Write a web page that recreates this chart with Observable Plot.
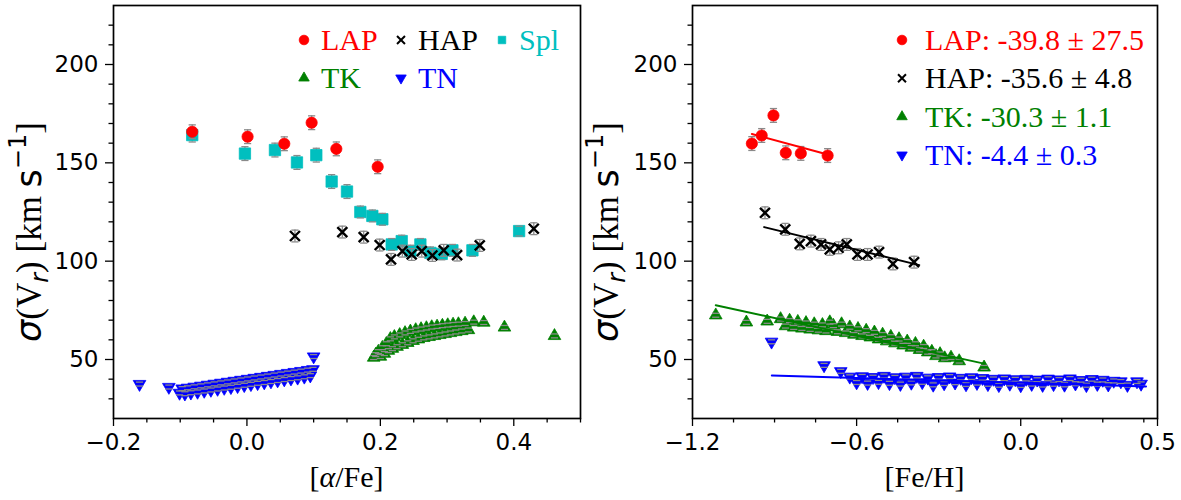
<!DOCTYPE html>
<html><head><meta charset="utf-8">
<script src="https://cdn.jsdelivr.net/npm/d3@7"></script>
<script src="https://cdn.jsdelivr.net/npm/@observablehq/plot@0.6"></script>
<style>
body{margin:0;background:#fff;}
#wrap{display:flex;width:1181px;height:500px;}
#wrap svg{overflow:visible;}
</style></head><body><div id="wrap"></div>
<script>
// ---------- data: [x, sigma(Vr), error] ----------
// left panel, x = [alpha/Fe]
const lapAlpha = [[-0.082,165.8,3.5],[0.001,163.3,3.5],[0.056,159.7,3.5],[0.097,170.4,3.5],[0.134,157.1,3.5],[0.196,148.0,3.5]];
const splAlpha = [[-0.082,164.1,3.5],[-0.003,154.7,3.5],[0.042,156.5,3.5],[0.075,150.2,3.5],[0.104,153.9,3.5],[0.127,140.5,3.5],[0.150,135.4,3.5],[0.170,125.0,3],[0.188,123.0,3],[0.203,121.3,3],[0.217,108.5,3],[0.232,110.2,3],[0.245,105.1,3],[0.260,108.5,3],[0.275,104.2,3],[0.292,103.7,3],[0.308,105.5,3],[0.338,105.5,3],[0.408,115.3,2.5]];
const hapAlpha = [[0.072,112.8,3],[0.143,114.8,3],[0.175,112.2,3],[0.199,108.2,3],[0.216,100.9,3],[0.233,105.1,3],[0.247,103.4,3],[0.262,105.1,3],[0.278,102.9,3],[0.295,105.5,3],[0.315,103.1,3],[0.349,108.0,3],[0.430,116.5,3]];
const tkAlpha = [[0.190,51.0,1],[0.193,52.5,1],[0.197,54.0,1],[0.200,51.5,1],[0.203,56.0,1],[0.206,53.0,1],[0.209,58.0,1],[0.212,54.5,1],[0.215,60.5,1],[0.218,55.5,1],[0.221,61.5,1],[0.225,56.5,1],[0.229,62.5,1],[0.233,57.5,1],[0.237,63.5,1],[0.241,58.5,1],[0.245,64.3,1],[0.249,59.5,1],[0.253,65.0,1],[0.257,60.3,1],[0.261,65.5,1],[0.265,61.0,1],[0.269,66.0,1],[0.273,61.5,1],[0.277,66.5,1],[0.281,62.0,1],[0.285,66.8,1],[0.289,62.5,1],[0.293,67.2,1],[0.297,63.0,1],[0.301,67.5,1],[0.305,63.5,1],[0.309,67.8,1],[0.313,64.0,1],[0.317,68.0,1],[0.322,64.5,1],[0.327,68.3,1],[0.332,65.0,1],[0.340,69.0,1],[0.355,68.8,1],[0.386,66.3,1],[0.461,62.0,1]];
const tnAlpha = [[-0.161,37.5,1],[-0.117,36.0,1],[-0.101,33.0,1],[-0.097,35.2,1],[-0.093,32.6,1],[-0.089,35.6,1],[-0.084,33.1,1],[-0.079,36.1,1],[-0.074,33.5,1],[-0.069,36.6,1],[-0.064,34.0,1],[-0.059,37.1,1],[-0.054,34.5,1],[-0.049,37.6,1],[-0.044,35.0,1],[-0.039,38.1,1],[-0.034,35.5,1],[-0.029,38.6,1],[-0.024,35.9,1],[-0.019,39.1,1],[-0.014,36.4,1],[-0.009,39.6,1],[-0.004,36.9,1],[0.001,40.1,1],[0.006,37.4,1],[0.011,40.6,1],[0.016,37.9,1],[0.021,41.1,1],[0.026,38.3,1],[0.031,41.6,1],[0.036,38.8,1],[0.041,42.1,1],[0.046,39.3,1],[0.051,42.6,1],[0.056,39.8,1],[0.061,43.1,1],[0.066,40.3,1],[0.071,43.6,1],[0.076,40.7,1],[0.081,44.1,1],[0.086,41.2,1],[0.091,44.6,1],[0.095,41.8,1],[0.099,45.0,1],[0.100,51.5,1]];

// right panel, x = [Fe/H]
const lapFe = [[-0.983,159.8,3.5],[-0.947,163.9,3.5],[-0.904,174.1,3.5],[-0.859,155.1,3.5],[-0.804,154.8,3.5],[-0.706,153.7,3.5]];
const hapFe = [[-0.935,124.6,3],[-0.861,116.2,3],[-0.808,108.8,3],[-0.767,110.2,3],[-0.730,108.5,3],[-0.698,106.0,3],[-0.666,106.8,3],[-0.636,108.5,3],[-0.597,103.4,3],[-0.560,103.4,3],[-0.518,104.6,3],[-0.467,98.6,3],[-0.390,99.5,3]];
const tkFe = [[-1.115,72.5,1],[-1.003,68.9,1],[-0.927,69.4,1],[-0.878,70.6,1],[-0.860,67.0,1],[-0.845,69.8,1],[-0.830,66.3,1],[-0.815,69.2,1],[-0.800,65.8,1],[-0.785,68.6,1],[-0.770,65.3,1],[-0.755,68.0,1],[-0.740,64.9,1],[-0.725,67.6,1],[-0.712,64.5,1],[-0.698,69.0,1],[-0.685,67.2,1],[-0.670,64.1,1],[-0.655,68.0,1],[-0.640,63.5,1],[-0.625,66.4,1],[-0.610,62.7,1],[-0.595,65.6,1],[-0.580,62.0,1],[-0.565,64.7,1],[-0.550,61.3,1],[-0.535,63.8,1],[-0.520,60.3,1],[-0.505,62.7,1],[-0.490,59.3,1],[-0.475,61.6,1],[-0.460,58.3,1],[-0.445,60.4,1],[-0.430,57.2,1],[-0.415,59.2,1],[-0.400,56.1,1],[-0.385,58.0,1],[-0.370,54.9,1],[-0.355,56.6,1],[-0.340,53.7,1],[-0.325,54.0,1],[-0.310,51.8,1],[-0.295,52.8,1],[-0.278,50.7,1],[-0.255,51.0,1],[-0.225,49.2,1],[-0.134,46.0,1]];
const tnFe = [[-0.911,59.0,1],[-0.719,47.0,1],[-0.658,44.0,1],[-0.625,41.2,1],[-0.600,38.3,1],[-0.580,41.4,1],[-0.560,38.0,1],[-0.540,41.0,1],[-0.520,38.4,1],[-0.500,41.6,1],[-0.480,37.9,1],[-0.460,40.9,1],[-0.440,37.5,1],[-0.420,41.2,1],[-0.400,38.1,1],[-0.380,41.6,1],[-0.360,38.4,1],[-0.340,40.7,1],[-0.320,37.1,1],[-0.300,41.0,1],[-0.280,37.8,1],[-0.260,41.3,1],[-0.240,38.2,1],[-0.220,40.6,1],[-0.200,37.3,1],[-0.180,40.9,1],[-0.160,38.0,1],[-0.140,40.5,1],[-0.120,37.4,1],[-0.100,40.1,1],[-0.080,36.9,1],[-0.060,40.3,1],[-0.040,37.6,1],[-0.020,39.9,1],[0.000,36.8,1],[0.020,40.1,1],[0.040,37.5,1],[0.060,39.7,1],[0.080,37.0,1],[0.100,40.2,1],[0.120,37.4,1],[0.140,39.8,1],[0.160,37.1,1],[0.180,40.3,1],[0.200,37.7,1],[0.220,39.5,1],[0.240,36.9,1],[0.260,40.0,1],[0.280,37.5,1],[0.300,39.6,1],[0.320,37.2,1],[0.340,39.1,1],[0.366,38.8,1],[0.390,37.0,1],[0.425,38.8,1],[0.440,37.6,1]];

// linear fits (endpoints) in right panel
const fitLapX = [-0.983, -0.706], fitLapY = [164.7, 154.2];
const fitHapX = [-0.938, -0.371], fitHapY = [117.3, 98.0];
const fitTkX  = [-1.115, -0.134], fitTkY  = [77.6, 47.9];
const fitTnX  = [-0.910, 0.458],  fitTnY  = [41.9, 36.3];

// legend labels
const slopeLabels = ["LAP: -39.8 \u00b1 27.5", "HAP: -35.6 \u00b1 4.8", "TK: -30.3 \u00b1 1.1", "TN: -4.4 \u00b1 0.3"];
const leftLabels = ["LAP", "HAP", "Spl", "TK", "TN"];

// ticks
const yMajor = [50, 100, 150, 200];
const yMinor = [30,40,60,70,80,90,110,120,130,140,160,170,180,190,210,220];
const xMajorA = [-0.2, 0.0, 0.2, 0.4];
const xMinorA = [-0.15,-0.1,-0.05,0.05,0.1,0.15,0.25,0.3,0.35,0.45,0.5];
const xMajorF = [-1.2, -0.6, 0.0, 0.5];
const xMinorF = [-1.05,-0.9,-0.75,-0.45,-0.3,-0.15,0.15,0.3,0.45];

// ---------- styles ----------
const C = {LAP:"#ff0000", HAP:"#000000", Spl:"#00bfbf", TK:"#008000", TN:"#0000ff"};
const GRAY = "#8a8a8a";
const SERIF = "Liberation Serif, Times New Roman, serif";
const SANS = "DejaVu Sans, sans-serif";
const capSymbol = {draw(ctx){ ctx.moveTo(-3.6,0); ctx.lineTo(3.6,0); }};
const STY = {
  LAP:{symbol:"circle", r:5.6, fill:C.LAP, stroke:C.LAP, sw:0.8},
  HAP:{symbol:"times", r:4.6, fill:"none", stroke:C.HAP, sw:2.4},
  Spl:{symbol:"square", r:6.4, fill:C.Spl, stroke:C.Spl, sw:0.8},
  TK:{symbol:"triangle", r:4.7, fill:C.TK, stroke:C.TK, sw:0.8},
  TN:{symbol:"triangle", r:4.7, fill:C.TN, stroke:C.TN, sw:0.8, rotate:180}
};

function groupMarks(arr, key){
  const s = STY[key];
  const data = arr.map(([x,y,e]) => ({x,y,e}));
  return [
    Plot.ruleX(data, {x:"x", y1:d=>d.y-d.e, y2:d=>d.y+d.e, stroke:GRAY, strokeWidth:1.3}),
    Plot.dot(data, {x:"x", y:"y", symbol:s.symbol, r:s.r, fill:s.fill, stroke:s.stroke, strokeWidth:s.sw, rotate:s.rotate||0}),
    Plot.dot(data, {x:"x", y:d=>d.y+d.e, symbol:capSymbol, r:3, fill:"none", stroke:GRAY, strokeWidth:1.3}),
    Plot.dot(data, {x:"x", y:d=>d.y-d.e, symbol:capSymbol, r:3, fill:"none", stroke:GRAY, strokeWidth:1.3})
  ];
}
function fitMark(xs, ys, color){
  const data = xs.map((x,i)=>({x, y:ys[i]}));
  return Plot.line(data, {x:"x", y:"y", stroke:color, strokeWidth:2});
}
function axes(xMajor, xMinor){
  const fmt = d3.format(".1f");
  return [
    Plot.axisY({ticks:yMinor, tickSize:4.5, fill:"none", label:null, strokeWidth:1.3}),
    Plot.axisY({ticks:yMajor, tickSize:8, tickPadding:7, label:null, fontSize:23, strokeWidth:1.3, tickFormat:d=>String(d)}),
    Plot.axisX({ticks:xMinor, tickSize:4.5, fill:"none", label:null, strokeWidth:1.3}),
    Plot.axisX({ticks:xMajor, tickSize:8, tickPadding:7, label:null, fontSize:23, strokeWidth:1.3, tickFormat:fmt}),
    Plot.frame({stroke:"black", strokeWidth:1.7})
  ];
}
function makePlot(w, ml, mr, xdom, marks){
  return Plot.plot({
    width:w, height:500, marginLeft:ml, marginRight:mr, marginTop:5, marginBottom:82,
    x:{domain:xdom}, y:{domain:[20,230]},
    style:{fontFamily:SANS, fontSize:"22px", color:"black", background:"white", overflow:"visible"},
    marks
  });
}

const left = makePlot(584, 113, 4, [-0.2, 0.5], [
  ...groupMarks(splAlpha, "Spl"),
  ...groupMarks(lapAlpha, "LAP"),
  ...groupMarks(hapAlpha, "HAP"),
  ...groupMarks(tkAlpha, "TK"),
  ...groupMarks(tnAlpha, "TN"),
  ...axes(xMajorA, xMinorA)
]);
const right = makePlot(597, 108, 24, [-1.2, 0.5], [
  ...groupMarks(lapFe, "LAP"),
  ...groupMarks(hapFe, "HAP"),
  ...groupMarks(tkFe, "TK"),
  ...groupMarks(tnFe, "TN"),
  fitMark(fitLapX, fitLapY, C.LAP),
  fitMark(fitHapX, fitHapY, C.HAP),
  fitMark(fitTkX, fitTkY, C.TK),
  fitMark(fitTnX, fitTnY, C.TN),
  ...axes(xMajorF, xMinorF)
]);
const wrap = document.getElementById("wrap");
wrap.appendChild(left); wrap.appendChild(right);

// ---------- labels & legends ----------
function yLabel(svg, x, cy){
  const t = d3.select(svg).append("text")
    .attr("transform", `translate(${x},${cy}) rotate(-90)`)
    .attr("text-anchor","middle").attr("font-size",35).attr("fill","black");
  t.append("tspan").attr("font-family",SANS).attr("font-style","italic").text("\u03c3");
  t.append("tspan").attr("font-family",SERIF).text("(V");
  t.append("tspan").attr("font-family",SANS).attr("font-style","italic").attr("font-size",24).attr("dy",7).text("r");
  t.append("tspan").attr("font-family",SERIF).attr("dy",-7).text(") [km ");
  t.append("tspan").attr("font-family",SANS).text("s");
  t.append("tspan").attr("font-family",SANS).attr("font-size",24).attr("dy",-15).text("\u22121");
  t.append("tspan").attr("font-family",SERIF).attr("dy",15).text("]");
}
function xLabel(svg, cx, parts){
  const t = d3.select(svg).append("text").attr("x",cx).attr("y",487)
    .attr("text-anchor","middle").attr("font-size",30).attr("font-family",SERIF).attr("fill","black");
  parts.forEach(p => t.append("tspan").attr("font-style", p[1] ? "italic" : null).text(p[0]));
}
function legendMarker(g, key, x, y){
  const s = STY[key];
  const sizes = {circle:Math.PI*4.8*4.8, square:Math.PI*4.2*4.2, triangle:Math.PI*3.9*3.9, times:Math.PI*3.7*3.7};
  const sym = {circle:d3.symbolCircle, square:d3.symbolSquare, triangle:d3.symbolTriangle, times:d3.symbolTimes}[s.symbol];
  g.append("path").attr("d", d3.symbol(sym, sizes[s.symbol])())
    .attr("transform", `translate(${x},${y}) rotate(${s.rotate||0})`)
    .attr("fill", s.fill).attr("stroke", s.stroke).attr("stroke-width", s.symbol==="times"?2:0.8);
}
function legendText(g, txt, x, y, color){
  g.append("text").attr("x",x).attr("y",y+10).attr("text-anchor","start")
   .attr("font-family",SERIF).attr("font-size",30).attr("fill",color).text(txt);
}
// left legend (3 columns)
{
  const g = d3.select(left).append("g");
  const cols = [304, 401, 502], rows = [40, 78];
  leftLabels.forEach((lab, i) => {
    const cx = cols[i % 3], cy = rows[Math.floor(i / 3)];
    legendMarker(g, lab, cx, cy);
    legendText(g, lab, cx + 17, cy, C[lab]);
  });
}
// right legend
{
  const g = d3.select(right).append("g");
  const keys = ["LAP","HAP","TK","TN"], rows = [40, 78.3, 116.7, 155];
  keys.forEach((k, i) => {
    legendMarker(g, k, 902 - 584, rows[i]);
    legendText(g, slopeLabels[i], 925 - 584, rows[i], C[k]);
  });
}
yLabel(left, 41, 232);
yLabel(right, 34, 232);
xLabel(left, 346.5, [["["],["\u03b1",true],["/Fe]"]]);
xLabel(right, 340.5, [["[Fe/H]"]]);
</script></body></html>
